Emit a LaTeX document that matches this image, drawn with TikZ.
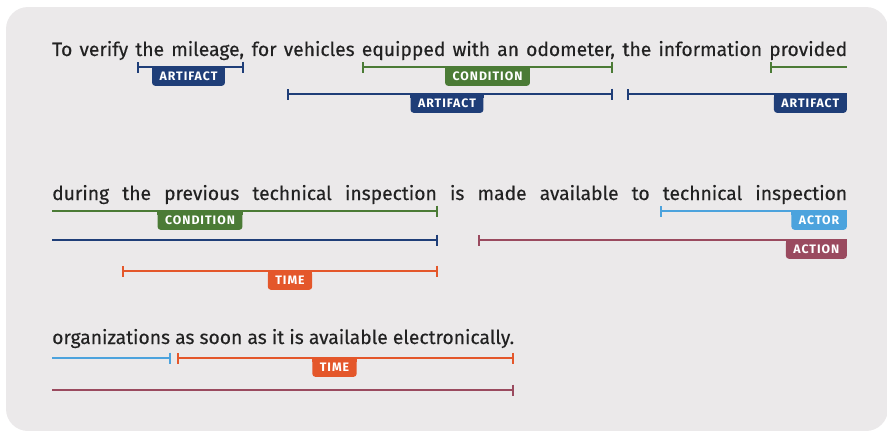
\documentclass[tikz,border=0pt]{standalone}
\usepackage{fontspec}
\setmainfont{Fira Sans}
\newfontfamily\txtfont[FakeBold=0.35]{Fira Sans}
\newfontfamily\labfont[LetterSpace=8]{Fira Sans}
\usetikzlibrary{arrows.meta}
\definecolor{bgc}{HTML}{EBE9EA}
\definecolor{txt}{HTML}{222222}
\definecolor{cblue}{HTML}{1F3E78}
\definecolor{cgreen}{HTML}{4B7B36}
\definecolor{corange}{HTML}{E4572B}
\definecolor{clight}{HTML}{4CA3DD}
\definecolor{cmaroon}{HTML}{9A4A5F}
\newlength\natw
\newcommand\spanlab[5]{%
  \node[lab, fill=#2, anchor=#4] (#1) at #3 {#5};
  \fill[#2] (#1.north west) rectangle ([yshift=-3.5pt]#1.north east);}
\tikzset{
  words/.style={inner sep=0pt, anchor=base west, text=txt, font=\bigtxt},
  bar/.style={line width=2pt},
  ticks/.style={{Bar[width=11pt]}-{Bar[width=11pt]}},
  tickl/.style={{Bar[width=11pt]}-},
  tickr/.style={-{Bar[width=11pt]}},
  lab/.style={font=\labfont\fontsize{12.3}{12.3}\selectfont\bfseries, text=white,
    inner xsep=7.5pt, inner ysep=5pt, text height=8.6pt, text depth=0pt,
    rounded corners=3pt},
}
\begin{document}
\settowidth\natw{\txtfont\fontsize{20}{24}\selectfont organizations as soon as it is available electronically.}%
\pgfmathsetmacro\fsz{20*462/\natw}%
\xdef\fszg{\fsz}%
\gdef\bigtxt{\txtfont\fontsize{\fszg pt}{\fszg pt}\selectfont}%
\begin{tikzpicture}[x=1pt,y=-1pt]
\useasboundingbox (0,0) rectangle (887,431);
\fill[bgc, rounded corners=22pt] (6,7) rectangle (888,431);

% text lines
\node[words] (t1) at (52,56) {\makebox[795pt][s]{To verify the mileage, for vehicles equipped with an odometer, the information provided}};
\node[words] (t2) at (52,200) {\makebox[795pt][s]{during the previous technical inspection is made available to technical inspection}};
\node[words] (t3) at (52,344) {organizations as soon as it is available electronically.};

% ---- line 1 spans
\coordinate (a1) at (137,67);  \coordinate (b1) at (244,67);
\draw[cblue, bar, ticks] (a1) -- (b1);
\spanlab{l1}{cblue}{(188.5,67)}{north}{ARTIFACT}

\coordinate (a2) at (362,67);  \coordinate (b2) at (613,67);
\draw[cgreen, bar, ticks] (a2) -- (b2);
\spanlab{l2}{cgreen}{(487.5,67)}{north}{CONDITION}

\coordinate (a3) at (287,94);  \coordinate (b3) at (613,94);
\draw[cblue, bar, ticks] (a3) -- (b3);
\spanlab{l3}{cblue}{(447,94)}{north}{ARTIFACT}

\coordinate (a4) at (770,67);  \coordinate (b4) at (847,67);
\draw[cgreen, bar, tickl] (a4) -- (b4);

\coordinate (a5) at (627,94);  \coordinate (b5) at (847,94);
\draw[cblue, bar, tickl] (a5) -- (b5);
\spanlab{l5}{cblue}{(b5)}{north east}{ARTIFACT}

% ---- line 2 spans
\coordinate (a6) at (52,211);  \coordinate (b6) at (438,211);
\draw[cgreen, bar, tickr] (a6) -- (b6);
\spanlab{l6}{cgreen}{(200,211)}{north}{CONDITION}

\coordinate (a7) at (52,240);  \coordinate (b7) at (438,240);
\draw[cblue, bar, tickr] (a7) -- (b7);

\coordinate (a8) at (122,271);  \coordinate (b8) at (438,271);
\draw[corange, bar, ticks] (a8) -- (b8);
\spanlab{l8}{corange}{(290,271)}{north}{TIME}

\coordinate (a9) at (660,211);  \coordinate (b9) at (847,211);
\draw[clight, bar, tickl] (a9) -- (b9);
\spanlab{l9}{clight}{(b9)}{north east}{ACTOR}

\coordinate (a10) at (478,240);  \coordinate (b10) at (847,240);
\draw[cmaroon, bar, tickl] (a10) -- (b10);
\spanlab{l10}{cmaroon}{(b10)}{north east}{ACTION}

% ---- line 3 spans
\coordinate (a11) at (52,358);  \coordinate (b11) at (171,358);
\draw[clight, bar, tickr] (a11) -- (b11);

\coordinate (a12) at (177,358);  \coordinate (b12) at (514,358);
\draw[corange, bar, ticks] (a12) -- (b12);
\spanlab{l12}{corange}{(334.5,358)}{north}{TIME}

\coordinate (a13) at (52,390);  \coordinate (b13) at (514,390);
\draw[cmaroon, bar, tickr] (a13) -- (b13);
\end{tikzpicture}
\end{document}
